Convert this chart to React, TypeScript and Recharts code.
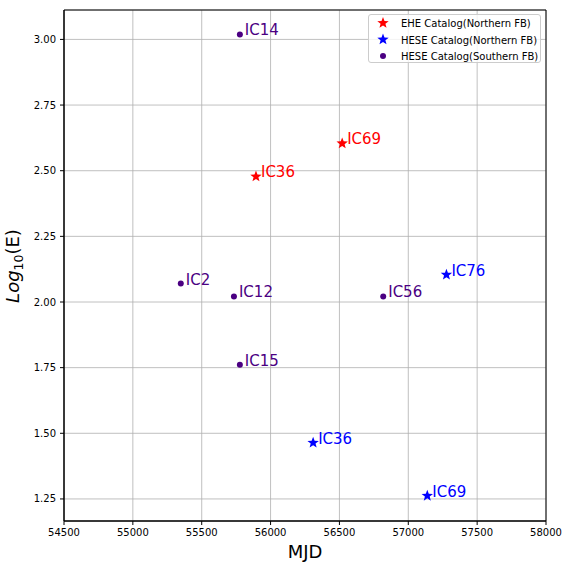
import React from 'react';
import { ScatterChart, Scatter, XAxis, YAxis, CartesianGrid, Legend, ReferenceArea } from 'recharts';

const eheNames = ['IC36', 'IC69'];
const eheMJD = [55894, 56520];
const eheLogE = [2.478, 2.604];

const heseNorthNames = ['IC76', 'IC36', 'IC69'];
const heseNorthMJD = [57277, 56309, 57138];
const heseNorthLogE = [2.104, 1.464, 1.262];

const heseSouthNames = ['IC14', 'IC2', 'IC12', 'IC56', 'IC15'];
const heseSouthMJD = [55777, 55348, 55734, 56818, 55777];
const heseSouthLogE = [3.019, 2.07, 2.021, 2.021, 1.761];

const xTicks = [54500, 55000, 55500, 56000, 56500, 57000, 57500, 58000];
const yTicks = [1.25, 1.5, 1.75, 2.0, 2.25, 2.5, 2.75, 3.0];
const xDomain = [54500, 58000];
const yDomain = [1.166, 3.112];

const seriesNames = ['EHE Catalog(Northern FB)', 'HESE Catalog(Northern FB)', 'HESE Catalog(Southern FB)'];
const seriesColors = ['#ff0000', '#0000ff', '#4b0082'];
const seriesMarkers = ['star', 'star', 'circle'];

const build = (names: string[], xs: number[], ys: number[]) =>
  names.map((n, i) => ({ name: n, x: xs[i], y: ys[i] }));

const eheData = build(eheNames, eheMJD, eheLogE);
const heseNorthData = build(heseNorthNames, heseNorthMJD, heseNorthLogE);
const heseSouthData = build(heseSouthNames, heseSouthMJD, heseSouthLogE);

const FONT = 'DejaVu Sans, sans-serif';

const starPoints = (cx: number, cy: number, R: number) => {
  const r = R * 0.42;
  const pts: string[] = [];
  for (let i = 0; i < 10; i++) {
    const rad = i % 2 === 0 ? R : r;
    const a = -Math.PI / 2 + (i * Math.PI) / 5;
    pts.push(`${cx + rad * Math.cos(a)},${cy + rad * Math.sin(a)}`);
  }
  return pts.join(' ');
};

const Marker = ({ type, cx, cy, color, size }: any) =>
  type === 'star' ? (
    <polygon points={starPoints(cx, cy, size)} fill={color} />
  ) : (
    <circle cx={cx} cy={cy} r={size * 0.5} fill={color} />
  );

const makeShape = (color: string, type: string) => (props: any) => {
  const { cx, cy, payload } = props;
  if (cx == null || cy == null) return null;
  return (
    <g>
      <Marker type={type} cx={cx} cy={cy} color={color} size={6} />
      <text x={cx + 5} y={cy + 1} fill={color} fontSize={15} fontFamily={FONT}>
        {payload.name}
      </text>
    </g>
  );
};

const LegendBox = () => (
  <div
    style={{
      width: 171,
      height: 47,
      border: '1px solid #cccccc',
      borderRadius: 3,
      background: 'rgba(255,255,255,0.8)',
      fontFamily: FONT,
      fontSize: 10,
      color: '#000',
      boxSizing: 'content-box',
    }}
  >
    <svg width={171} height={47}>
      {seriesNames.map((n, i) => (
        <g key={n}>
          <Marker type={seriesMarkers[i]} cx={14} cy={8 + i * 16.5} color={seriesColors[i]} size={6} />
          <text x={32} y={8 + i * 16.5 + 4} fontSize={10} fontFamily={FONT} fill="#000">
            {n}
          </text>
        </g>
      ))}
    </svg>
  </div>
);

const YLabel = () => (
  <text
    x={19}
    y={266}
    transform="rotate(-90, 19, 266)"
    textAnchor="middle"
    fontFamily={FONT}
    fontSize={18}
    fill="#000"
  >
    <tspan fontStyle="italic">Log</tspan>
    <tspan fontSize={12.5} dy={4}>10</tspan>
    <tspan dy={-4}>(E)</tspan>
  </text>
);

export default function App() {
  return (
    <div style={{ position: 'absolute', left: 0, top: 0 }}>
      <ScatterChart width={568} height={568} margin={{ top: 10, right: 22, left: 0, bottom: 0 }}>
        <CartesianGrid stroke="#b0b0b0" strokeWidth={0.8} />
        <XAxis
          type="number"
          dataKey="x"
          domain={xDomain}
          ticks={xTicks}
          allowDataOverflow
          height={47}
          tickSize={4}
          tickMargin={4}
          stroke="#000"
          tick={{ fill: '#000', fontSize: 10, fontFamily: FONT }}
          label={{ value: 'MJD', position: 'insideBottom', offset: 10, fontSize: 18, fontFamily: FONT, fill: '#000' }}
        />
        <YAxis
          type="number"
          dataKey="y"
          domain={yDomain}
          ticks={yTicks}
          allowDataOverflow
          width={64}
          tickSize={4}
          tickMargin={4}
          stroke="#000"
          tickFormatter={(v: number) => v.toFixed(2)}
          tick={{ fill: '#000', fontSize: 10, fontFamily: FONT }}
          label={<YLabel />}
        />
        <ReferenceArea x1={xDomain[0]} x2={xDomain[1]} y1={yDomain[0]} y2={yDomain[1]} fill="none" stroke="#000" strokeWidth={1} />
        <Scatter name={seriesNames[0]} data={eheData} fill={seriesColors[0]} shape={makeShape(seriesColors[0], 'star')} isAnimationActive={false} />
        <Scatter name={seriesNames[1]} data={heseNorthData} fill={seriesColors[1]} shape={makeShape(seriesColors[1], 'star')} isAnimationActive={false} />
        <Scatter name={seriesNames[2]} data={heseSouthData} fill={seriesColors[2]} shape={makeShape(seriesColors[2], 'circle')} isAnimationActive={false} />
        <Legend
          layout="vertical"
          align="center"
          verticalAlign="middle"
          content={<LegendBox />}
          wrapperStyle={{ top: 14, left: 368, width: 173, height: 49 }}
        />
      </ScatterChart>
    </div>
  );
}
